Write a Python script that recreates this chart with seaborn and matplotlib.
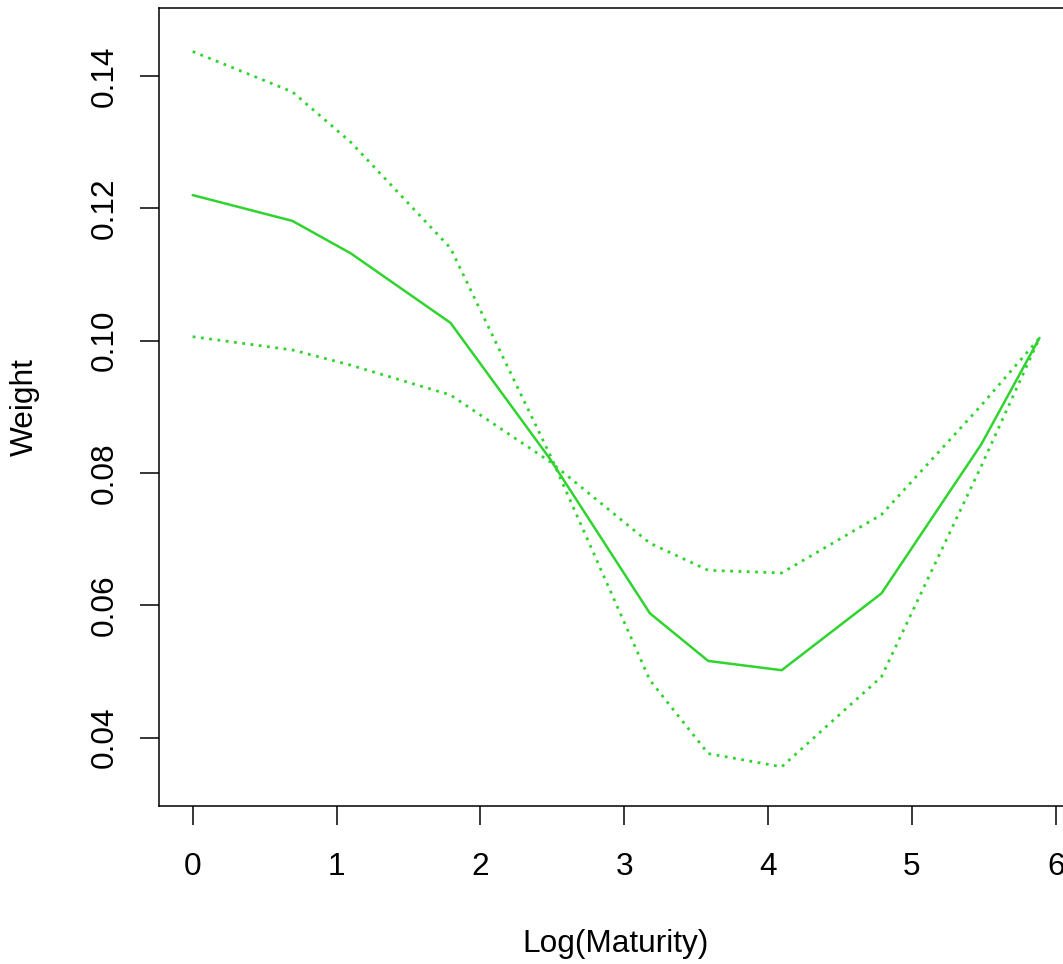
import numpy as np
import pandas as pd
import matplotlib
matplotlib.use('Agg')
import matplotlib.pyplot as plt
import seaborn as sns

# maturities in months, plotted on log scale
maturity_months = [1, 2, 3, 6, 12, 24, 36, 60, 120, 240, 360]
weight_est = [0.1220, 0.1181, 0.1132, 0.1027, 0.0821, 0.0588, 0.0516, 0.0502, 0.0618, 0.0843, 0.1004]
band_a = [0.1437, 0.1376, 0.1300, 0.1140, 0.0827, 0.0487, 0.0376, 0.0356, 0.0492, 0.0810, 0.1004]
band_b = [0.1006, 0.0986, 0.0963, 0.0918, 0.0817, 0.0694, 0.0653, 0.0649, 0.0737, 0.0902, 0.1004]
x_ticks = [0, 1, 2, 3, 4, 5, 6]
y_ticks = [0.04, 0.06, 0.08, 0.10, 0.12, 0.14]

df = pd.DataFrame({
    'log_mat': np.log(maturity_months),
    'est': weight_est,
    'a': band_a,
    'b': band_b,
})

sns.set_theme(style='white')
plt.rcParams['font.family'] = ['Liberation Sans', 'DejaVu Sans']

green = '#2fd42f'
fsize = 22.8

fig = plt.figure(figsize=(10.63, 9.64), dpi=100)
ax = fig.add_axes([0.1494, 0.1639, 0.8603, 0.8275])

sns.lineplot(data=df, x='log_mat', y='est', ax=ax, color=green, linewidth=1.8)
sns.lineplot(data=df, x='log_mat', y='a', ax=ax, color=green, linewidth=2.0,
             linestyle=(0, (1, 2)))
sns.lineplot(data=df, x='log_mat', y='b', ax=ax, color=green, linewidth=2.0,
             linestyle=(0, (1, 2)))

ax.set_xlim(-0.2354, 6.1214)
ax.set_ylim(0.02968, 0.15023)
ax.set_xticks(x_ticks)
ax.set_xticklabels([str(t) for t in x_ticks])
ax.set_yticks(y_ticks)
ax.set_yticklabels([f'{t:.2f}' for t in y_ticks], rotation=90, va='center')

for s in ax.spines.values():
    s.set_color('black')
    s.set_linewidth(1.1)

ax.tick_params(axis='both', direction='out', length=14, width=1.1, color='black',
               labelsize=fsize, labelcolor='black')
ax.tick_params(axis='x', pad=19, bottom=True)
ax.tick_params(axis='y', pad=14, left=True)

ax.set_xlabel('Log(Maturity)', fontsize=fsize, color='black', va='center')
ax.set_ylabel('Weight', fontsize=fsize, color='black', va='center', ha='center')
ax.xaxis.set_label_coords(0.5, -0.173)
ax.yaxis.set_label_coords(-0.1463, 0.5)

fig.savefig('out.png', dpi=100, facecolor='white')
